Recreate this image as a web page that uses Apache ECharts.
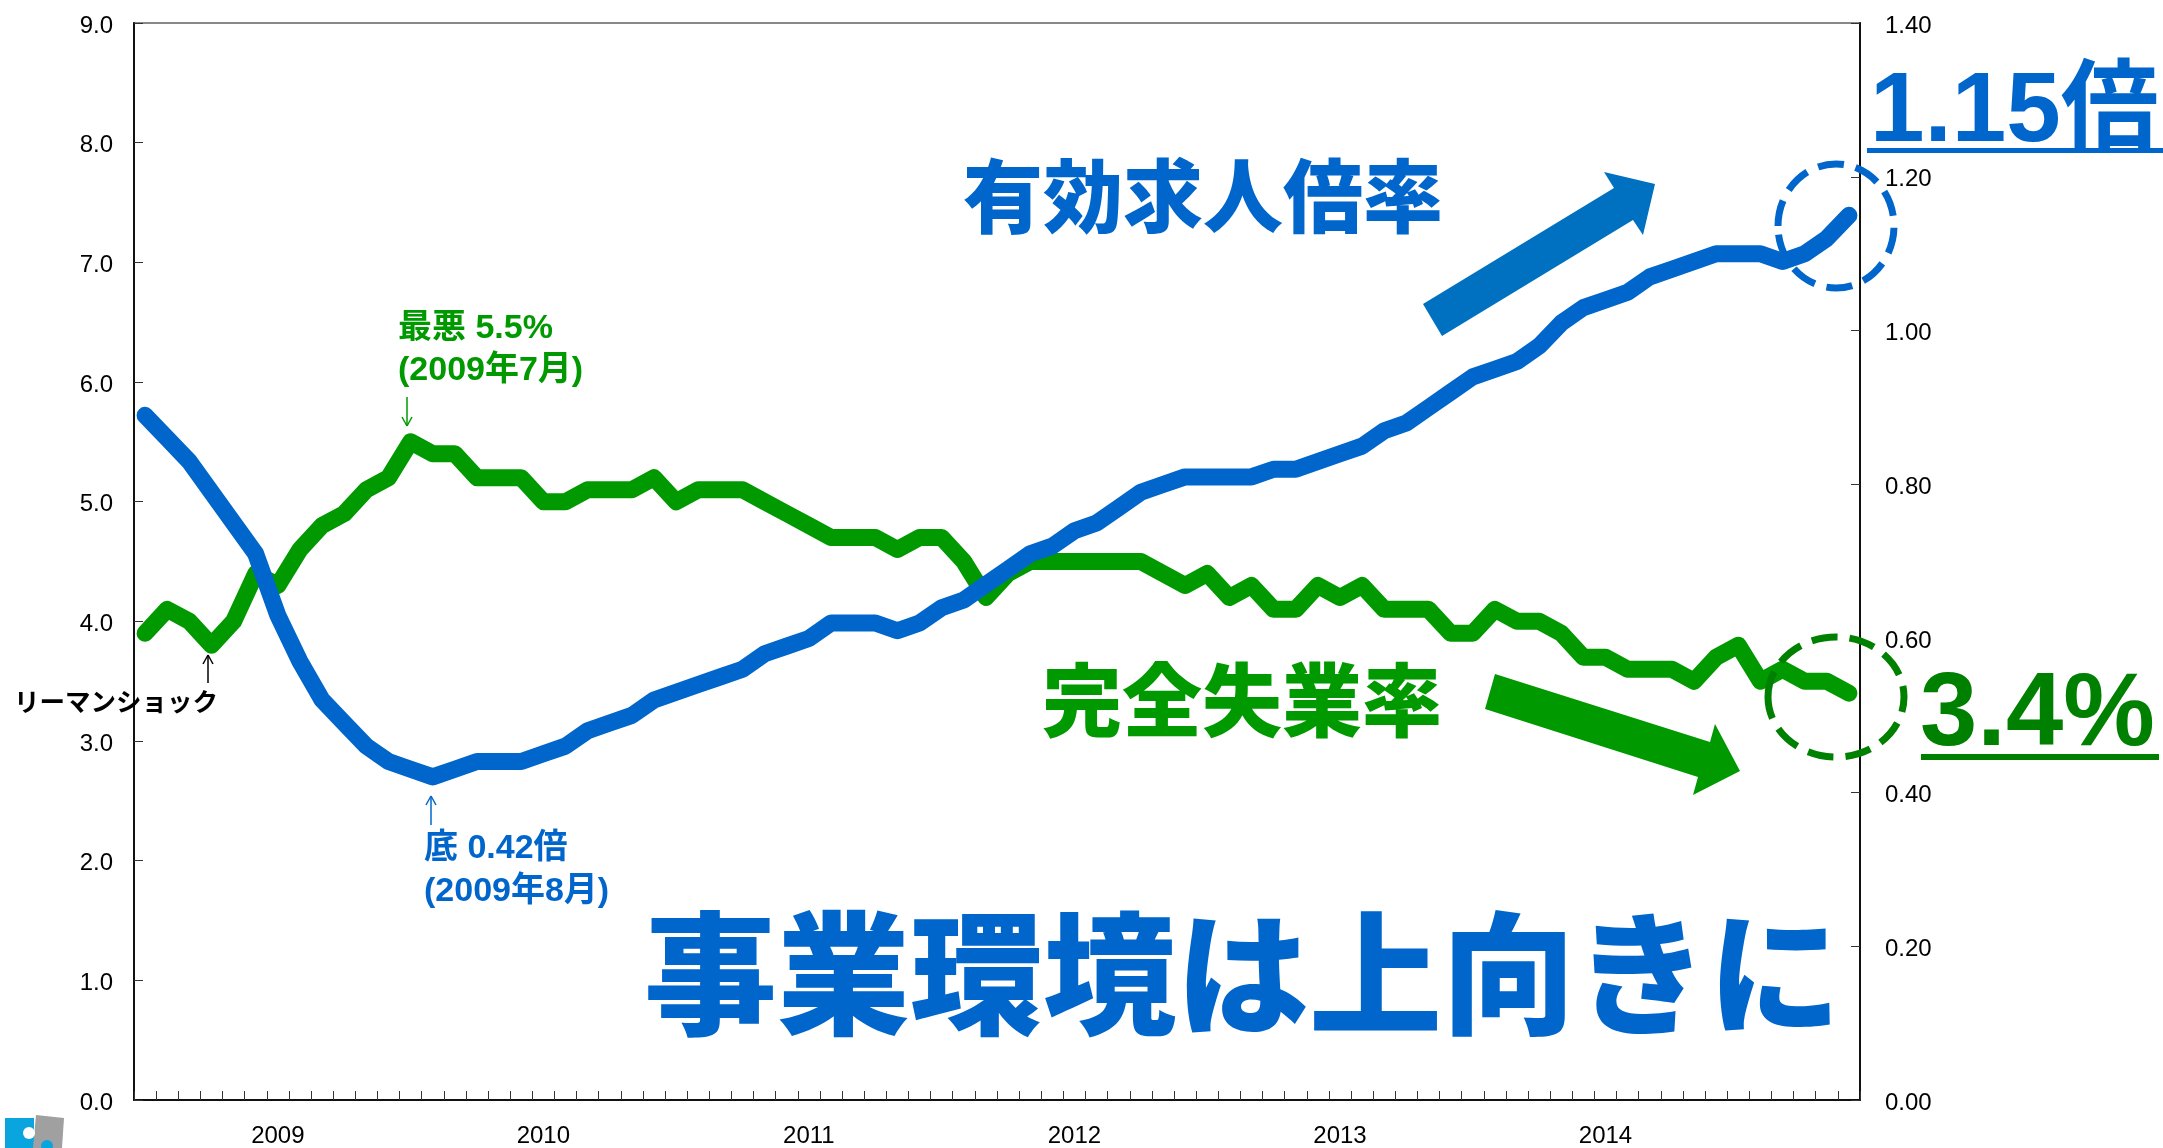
<!DOCTYPE html>
<html><head><meta charset="utf-8">
<style>html,body{margin:0;padding:0;background:#fff}#c{width:2163px;height:1148px}</style>
<script src="https://cdn.jsdelivr.net/npm/echarts@6/dist/echarts.min.js"></script>
</head><body><div id="c"></div>
<script>
const months = [];
for (let y = 2008; y <= 2014; y++) for (let m = 1; m <= 12; m++) if (y > 2008 || m >= 7) months.push(y + '-' + String(m).padStart(2, '0'));
const unemployment = [3.9,4.1,4.0,3.8,4.0,4.4,4.3,4.6,4.8,4.9,5.1,5.2,5.5,5.4,5.4,5.2,5.2,5.2,5.0,5.0,5.1,5.1,5.1,5.2,5.0,5.1,5.1,5.1,5.0,4.9,4.8,4.7,4.7,4.7,4.6,4.7,4.7,4.5,4.2,4.4,4.5,4.5,4.5,4.5,4.5,4.5,4.4,4.3,4.4,4.2,4.3,4.1,4.1,4.3,4.2,4.3,4.1,4.1,4.1,3.9,3.9,4.1,4.0,4.0,3.9,3.7,3.7,3.6,3.6,3.6,3.5,3.7,3.8,3.5,3.6,3.5,3.5,3.4];
const jobRatio = [0.89,0.86,0.83,0.79,0.75,0.71,0.63,0.57,0.52,0.49,0.46,0.44,0.43,0.42,0.43,0.44,0.44,0.44,0.45,0.46,0.48,0.49,0.50,0.52,0.53,0.54,0.55,0.56,0.58,0.59,0.60,0.62,0.62,0.62,0.61,0.62,0.64,0.65,0.67,0.69,0.71,0.72,0.74,0.75,0.77,0.79,0.80,0.81,0.81,0.81,0.81,0.82,0.82,0.83,0.84,0.85,0.87,0.88,0.90,0.92,0.94,0.95,0.96,0.98,1.01,1.03,1.04,1.05,1.07,1.08,1.09,1.10,1.10,1.10,1.09,1.10,1.12,1.15];
const BLUE = '#0066CC', GREEN = '#009900', DGREEN = '#008000', ARROWBLUE = '#0070C0';
const SANS = '"Liberation Sans", Arial, sans-serif';
const CJK = '"Liberation Sans", "Noto Sans CJK JP", sans-serif';

function text(x, y, str, size, color, weight) {
  return { type: 'text', x, y, silent: true, z: 50, style: { text: str, fill: color, font: (weight || 'bold') + ' ' + size + 'px ' + CJK, textVerticalAlign: 'top' } };
}
function poly(points, color) {
  return { type: 'polygon', silent: true, z: 40, shape: { points }, style: { fill: color } };
}
function ell(cx, cy, rx, ry, color, w, dash) {
  return { type: 'ellipse', silent: true, z: 45, shape: { cx, cy, rx, ry }, style: { fill: 'none', stroke: color, lineWidth: w, lineDash: dash } };
}
function seg(x1, y1, x2, y2, color, w) {
  return { type: 'line', silent: true, z: 45, shape: { x1, y1, x2, y2 }, style: { stroke: color, lineWidth: w } };
}
function arrow(x, y1, y2, color) {
  const d = y2 > y1 ? -1 : 1;
  return [seg(x, y1, x, y2, color, 1.5), seg(x, y2, x - 5, y2 + d * 9, color, 1.5), seg(x, y2, x + 5, y2 + d * 9, color, 1.5)];
}
function dot(cx, cy, r, color) {
  return { type: 'circle', silent: true, z: 41, shape: { cx, cy, r }, style: { fill: color } };
}
const graphics = [
  text(963, 164, '有効求人倍率', 80, BLUE, '900'),
  text(1042, 668, '完全失業率', 80, GREEN, '900'),
  text(644, 921, '事業環境は上向きに', 133, BLUE, '900'),
  text(1870, 65, '1.15倍', 98, BLUE, 'bold'),
  { type: 'rect', silent: true, z: 50, shape: { x: 1867, y: 148, width: 296, height: 5 }, style: { fill: BLUE } },
  text(1920, 665, '3.4%', 103, DGREEN, 'bold'),
  { type: 'rect', silent: true, z: 50, shape: { x: 1921, y: 754, width: 238, height: 6 }, style: { fill: DGREEN } },
  poly([[1423,304],[1614,188],[1604,172],[1655,184],[1643,235],[1633,220],[1442,336]], ARROWBLUE),
  poly([[1495,674],[1710,742],[1715,724],[1740,771],[1693,795],[1698,777],[1485,709]], GREEN),
  ell(1836, 226, 58, 62, BLUE, 7, [26, 12]),
  ell(1836, 697, 68, 60, DGREEN, 7, [26, 12]),
  text(398, 312, '最悪 5.5%', 34, GREEN, 'bold'),
  text(398, 354, '(2009年7月)', 34, GREEN, 'bold'),
  ...arrow(407, 397, 426, GREEN),
  text(424, 832, '底 0.42倍', 34, BLUE, 'bold'),
  text(424, 875, '(2009年8月)', 34, BLUE, 'bold'),
  ...arrow(431, 825, 796, BLUE),
  text(14, 691, 'リーマンショック', 25.5, '#000', 'bold'),
  ...arrow(208, 683, 655, '#000'),
  poly([[5,1118],[34,1118],[34,1148],[5,1148]], '#0AA5DF'),
  dot(29, 1133, 6, '#fff'),
  poly([[36,1115],[64,1118],[62,1148],[33,1148]], '#A0A0A0'),
  dot(47, 1146, 6, '#0AA5DF'),
];
const chart = echarts.init(document.getElementById('c'));
const axisLine = { show: true, lineStyle: { color: '#111', width: 2 } };
const tick = { show: true, inside: true, length: 9, lineStyle: { color: '#333', width: 1 } };
const lab = { color: '#000', fontSize: 24, fontFamily: SANS };
const yLab = Object.assign({}, lab, { padding: [0, 0, 0, 0], verticalAlign: 'top', lineHeight: 24, padding: [-9, 0, 0, 0] });
chart.setOption({
  animation: false,
  backgroundColor: '#fff',
  grid: { left: 134, top: 23, width: 1726, height: 1080, show: true, borderColor: '#888', borderWidth: 2, backgroundColor: 'transparent' },
  xAxis: {
    type: 'category', data: months, boundaryGap: true,
    axisLine, axisTick: Object.assign({}, tick, { interval: 0 }),
    axisLabel: Object.assign({}, lab, { margin: 24, interval: (i) => i % 12 === 6, formatter: (v) => v.slice(0, 4) }),
    splitLine: { show: false }
  },
  yAxis: [
    { type: 'value', min: 0, max: 9, interval: 1, axisLine, axisTick: tick, splitLine: { show: false },
      axisLabel: Object.assign({}, yLab, { margin: 21, formatter: (v) => v.toFixed(1) }) },
    { type: 'value', min: 0, max: 1.4, interval: 0.2, position: 'right', axisLine, axisTick: tick, splitLine: { show: false },
      axisLabel: Object.assign({}, yLab, { margin: 25, formatter: (v) => v.toFixed(2) }) }
  ],
  series: [
    { name: '完全失業率', type: 'line', yAxisIndex: 0, data: unemployment, showSymbol: false, smooth: false, z: 3,
      lineStyle: { color: GREEN, width: 17, cap: 'round', join: 'round' } },
    { name: '有効求人倍率', type: 'line', yAxisIndex: 1, data: jobRatio, showSymbol: false, smooth: false, z: 4,
      lineStyle: { color: BLUE, width: 17, cap: 'round', join: 'round' } }
  ],
  graphic: { elements: graphics }
});
</script></body></html>
